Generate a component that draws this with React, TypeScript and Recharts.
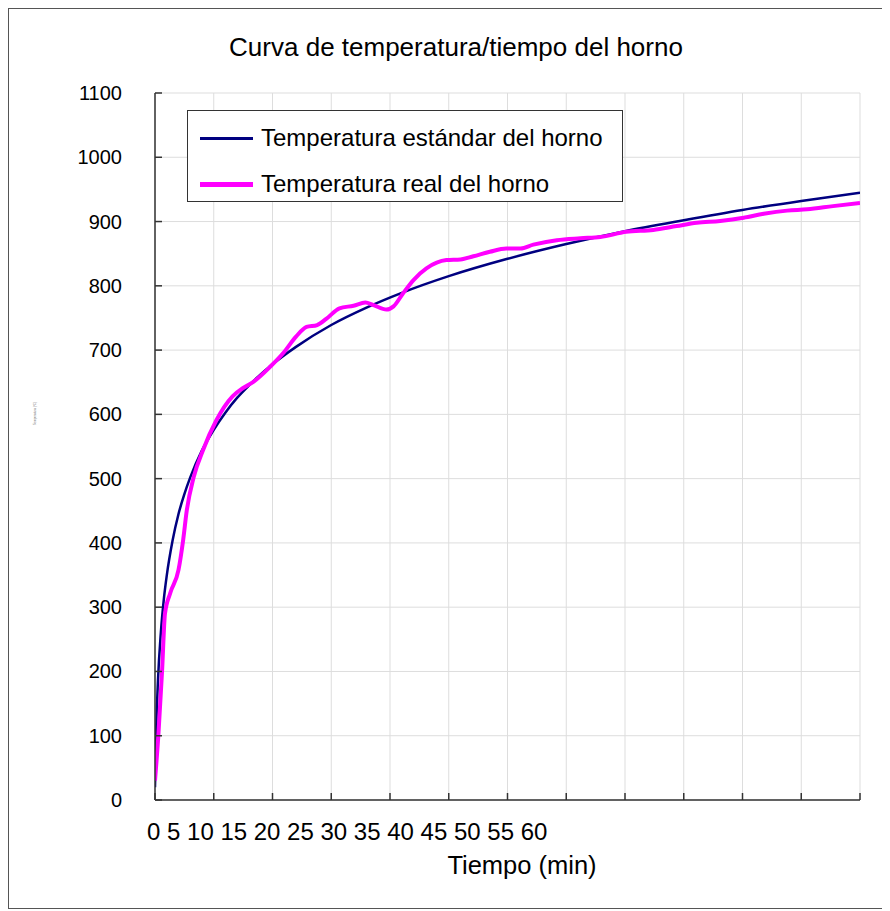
import {
  LineChart,
  Line,
  XAxis,
  YAxis,
  CartesianGrid,
} from "recharts";

const chartTitle = "Curva de temperatura/tiempo del horno";
const xTitle = "Tiempo (min)";
const yTitle = "Temperatura (°C)";

const xTicks = [0, 5, 10, 15, 20, 25, 30, 35, 40, 45, 50, 55, 60];
const xTickLabels = ["0", "5", "10", "15", "20", "25", "30", "35", "40", "45", "50", "55", "60"];
const yTicks = [0, 100, 200, 300, 400, 500, 600, 700, 800, 900, 1000, 1100];

const seriesNames = ["Temperatura estándar del horno", "Temperatura real del horno"];
const seriesColors = ["#000080", "#ff00ff"];

// curva estándar
const stdTime = [0, 0.1, 0.25, 0.5, 0.75, 1, 1.5, 2, 2.5, 3, 4, 5, 6, 7, 8, 10, 12, 15, 18, 21, 25, 30, 35, 40, 45, 50, 55, 60];
const stdTemp = [20, 108, 185, 261, 312, 349, 404, 445, 476, 502, 544, 576, 603, 626, 645, 678, 705, 739, 766, 789, 815, 842, 865, 885, 902, 918, 932, 945];

// curva real medida
const realTime = [0, 0.3, 0.6, 0.85, 1.3, 2, 2.4, 2.7, 3.3, 4.1, 5.2, 6.6, 7.5, 8.4, 9.8, 10.9, 12, 12.9, 13.8, 14.6, 15.7, 16.9, 17.9, 18.6, 19.7, 20.3, 21.1, 22, 23.1, 24.8, 26, 27.1, 28.5, 29.9, 31.1, 32.2, 34.2, 36.2, 37.9, 40.1, 42.4, 44.4, 46.1, 48.1, 50.1, 51.8, 53.8, 55.5, 57.7, 60];
const realTemp = [30, 105, 200, 290, 322, 358, 405, 450, 503, 545, 590, 628, 641, 651, 674, 695, 721, 736, 739, 749, 765, 769, 774, 770, 763, 768, 788, 809, 827, 840, 841, 846, 853, 858, 858, 864, 871, 874, 876, 884, 887, 893, 898, 901, 906, 912, 917, 919, 924, 929];

const stdData = stdTime.map((t, i) => ({ t, temp: stdTemp[i] }));
const realData = realTime.map((t, i) => ({ t, temp: realTemp[i] }));

const FONT = '"Liberation Sans", Arial, sans-serif';

// marcas hacia dentro; todas las etiquetas en una sola línea desde el 0
const XTick = (props: any) => {
  const { x, y, index } = props;
  return (
    <g>
      <line x1={x} y1={y} x2={x} y2={y - 7} stroke="#333" strokeWidth={1.5} />
      {index === 0 && (
        <text x={x - 8} y={y + 40} fontSize={24} fill="#000" fontFamily={FONT} textAnchor="start">
          {xTickLabels.join(" ")}
        </text>
      )}
    </g>
  );
};

const YTick = (props: any) => {
  const { x, y, payload } = props;
  return (
    <g>
      <line x1={x} y1={y} x2={x + 7} y2={y} stroke="#333" strokeWidth={1.5} />
      <text x={x - 33} y={y + 7} fontSize={20} fill="#000" fontFamily={FONT} textAnchor="end">
        {payload.value}
      </text>
    </g>
  );
};

const LegendBox = () => (
  <div
    style={{
      position: "absolute",
      left: 178,
      top: 101,
      width: 434,
      height: 90,
      border: "1px solid #333",
      background: "#fff",
      fontFamily: FONT,
      fontSize: 24,
      zIndex: 2,
    }}
  >
    {seriesNames.map((name, i) => (
      <div
        key={name}
        style={{ position: "absolute", left: 12, top: 13 + i * 46, height: 28, display: "flex", alignItems: "center" }}
      >
        <div style={{ width: 53, height: i === 0 ? 3 : 5, background: seriesColors[i] }} />
        <span style={{ marginLeft: 8, color: "#000", whiteSpace: "nowrap" }}>{name}</span>
      </div>
    ))}
  </div>
);

export default function App() {
  return (
    <div
      style={{
        position: "relative",
        width: 878,
        height: 899,
        border: "1px solid #555",
        background: "#fff",
        fontFamily: FONT,
      }}
    >
      <div
        style={{
          position: "absolute",
          top: 25,
          left: 0,
          width: 894,
          textAlign: "center",
          fontSize: 26,
          lineHeight: 1,
          color: "#000",
        }}
      >
        {chartTitle}
      </div>
      <div
        style={{
          position: "absolute",
          top: 844,
          left: 413,
          width: 200,
          textAlign: "center",
          fontSize: 25.5,
          lineHeight: 1,
          color: "#000",
        }}
      >
        {xTitle}
      </div>
      <div
        style={{
          position: "absolute",
          left: 26 - 15,
          top: 405 - 2,
          width: 30,
          textAlign: "center",
          fontSize: 3,
          lineHeight: 1,
          color: "#777",
          transform: "rotate(-90deg)",
          whiteSpace: "nowrap",
        }}
      >
        {yTitle}
      </div>
      <LineChart
        width={878}
        height={899}
        margin={{ top: 84, right: 27, left: 66, bottom: 48 }}
        style={{ position: "absolute", left: 0, top: 0 }}
      >
        <CartesianGrid stroke="#dddddd" strokeWidth={1} />
        <XAxis
          dataKey="t"
          type="number"
          domain={[0, 60]}
          ticks={xTicks}
          height={60}
          tickSize={0}
          tickMargin={0}
          tickLine={false}
          tick={<XTick />}
          interval={0}
          stroke="#333"
          strokeWidth={1.5}
          allowDataOverflow
        />
        <YAxis
          type="number"
          domain={[0, 1100]}
          ticks={yTicks}
          width={80}
          tickSize={0}
          tickMargin={0}
          tickLine={false}
          interval={0}
          stroke="#333"
          strokeWidth={1.5}
          tick={<YTick />}
        />
        <Line
          data={stdData}
          dataKey="temp"
          name={seriesNames[0]}
          type="monotone"
          stroke={seriesColors[0]}
          strokeWidth={2.5}
          dot={false}
          isAnimationActive={false}
        />
        <Line
          data={realData}
          dataKey="temp"
          name={seriesNames[1]}
          type="monotone"
          stroke={seriesColors[1]}
          strokeWidth={4}
          dot={false}
          isAnimationActive={false}
        />
      </LineChart>
      <LegendBox />
    </div>
  );
}
